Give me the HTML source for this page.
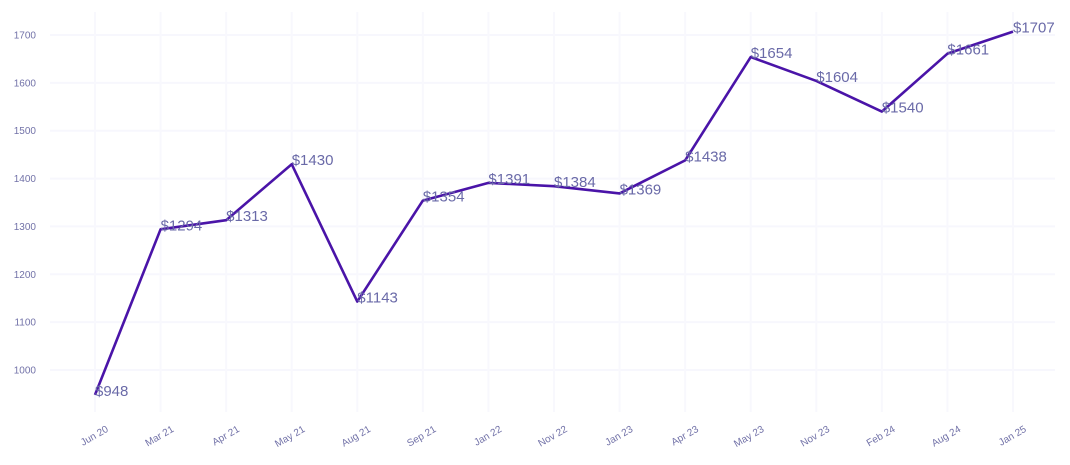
<!DOCTYPE html>
<html><head><meta charset="utf-8"><style>body{margin:0;background:#fff}svg{display:block;font-family:"Liberation Sans",sans-serif}</style></head>
<body>
<svg id="chart" width="1070" height="465" xmlns="http://www.w3.org/2000/svg"></svg>
<script>
const categories=["Jun 20","Mar 21","Apr 21","May 21","Aug 21","Sep 21","Jan 22","Nov 22","Jan 23","Apr 23","May 23","Nov 23","Feb 24","Aug 24","Jan 25"];
const values=[948,1294,1313,1430,1143,1354,1391,1384,1369,1438,1654,1604,1540,1661,1707];
const yTicks=[1000,1100,1200,1300,1400,1500,1600,1700];
const NS="http://www.w3.org/2000/svg";
const svg=document.getElementById('chart');
const x0=95,x1=1013;
const xs=i=>x0+(x1-x0)*i/(categories.length-1);
const ys=v=>370-(v-1000)*(335/700);
function mk(t,a,p){const e=document.createElementNS(NS,t);for(const k in a)e.setAttribute(k,a[k]);(p||svg).appendChild(e);return e;}
const grid=mk('g',{});


yTicks.forEach(v=>{
  const l=mk('line',{x1:50,x2:1055,y1:ys(v),y2:ys(v),stroke:'#f7f7fd','stroke-width':2},grid);
  
  
  const t=mk('text',{x:36,y:ys(v)+3.5,'text-anchor':'end','font-size':10,fill:'#7272a8'});
  
  
  t.textContent=v;
});
categories.forEach((c,i)=>{
  const l=mk('line',{x1:xs(i),x2:xs(i),y1:12,y2:412,stroke:'#f8f8fd','stroke-width':2},grid);
  
  
  const t=mk('text',{x:xs(i)+14,y:431,'text-anchor':'end','font-size':10,fill:'#7272a8',transform:`rotate(-30 ${xs(i)+14} 431)`});
  
  
  t.textContent=c;
});
const p=mk('polyline',{points:values.map((v,i)=>xs(i)+','+ys(v)).join(' '),fill:'none',stroke:'#4a14a8','stroke-width':2.6,'stroke-linejoin':'round'});


values.forEach((v,i)=>{
  const t=mk('text',{x:xs(i),y:ys(v)+1,'font-size':15,fill:'#6a6aa8'});
  
  
  t.textContent='$'+v;
});
</script>
</body></html>
